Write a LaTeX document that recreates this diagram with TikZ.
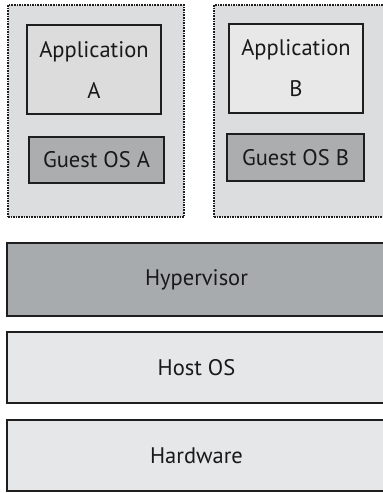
\documentclass[tikz,border=0pt]{standalone}
\usepackage{fontspec}
\setmainfont{PT Sans}
\definecolor{outerfill}{HTML}{DCDDDF}
\definecolor{appAfill}{HTML}{DCDCDD}
\definecolor{appBfill}{HTML}{E8E8E9}
\definecolor{guestfill}{HTML}{ABADAF}
\definecolor{hyperfill}{HTML}{A8ABAD}
\definecolor{layerfill}{HTML}{E6E7E8}
\definecolor{edge}{HTML}{1E1E1E}
\tikzset{
  vmbox/.style={draw=edge, densely dotted, line width=1.6pt, fill=outerfill, anchor=north west, inner sep=0pt, outer sep=0pt},
  appbox/.style={draw=edge, line width=2pt, anchor=north west, inner sep=0pt, outer sep=0pt, align=center, font=\fontsize{22.5}{26}\selectfont, text=black!90},
  layerbox/.style={draw=edge, line width=2.4pt, anchor=north west, inner sep=0pt, outer sep=0pt, font=\fontsize{22.5}{26}\selectfont, text=black!90},
}
\begin{document}
\begin{tikzpicture}[x=1pt,y=-1pt]
\useasboundingbox (0,0) rectangle (383,493);
\clip (0,0) rectangle (383,493);
\node[vmbox, minimum width=176pt, minimum height=212pt] (vmA) at (8,5) {};
\node[vmbox, minimum width=180pt, minimum height=212pt] (vmB) at (214,5) {};
\node[appbox, fill=appAfill, minimum width=134pt, minimum height=89pt] (appA) at (27,25) {Application\\[15pt]A};
\node[appbox, fill=guestfill, minimum width=135pt, minimum height=46pt] (guestA) at (29,137) {Guest OS A};
\node[appbox, fill=appBfill, minimum width=134pt, minimum height=89pt] (appB) at (229,24) {Application\\[15pt]B};
\node[appbox, fill=guestfill, minimum width=137pt, minimum height=47pt] (guestB) at (227,134) {Guest OS B};
\node[layerbox, fill=hyperfill, minimum width=379pt, minimum height=73pt] (hyper) at (7,243) {Hypervisor};
\node[layerbox, fill=layerfill, minimum width=379pt, minimum height=71pt] (host) at (7,332) {Host OS};
\node[layerbox, fill=layerfill, minimum width=379pt, minimum height=71pt] (hw) at (7,420) {Hardware};
\end{tikzpicture}
\end{document}
